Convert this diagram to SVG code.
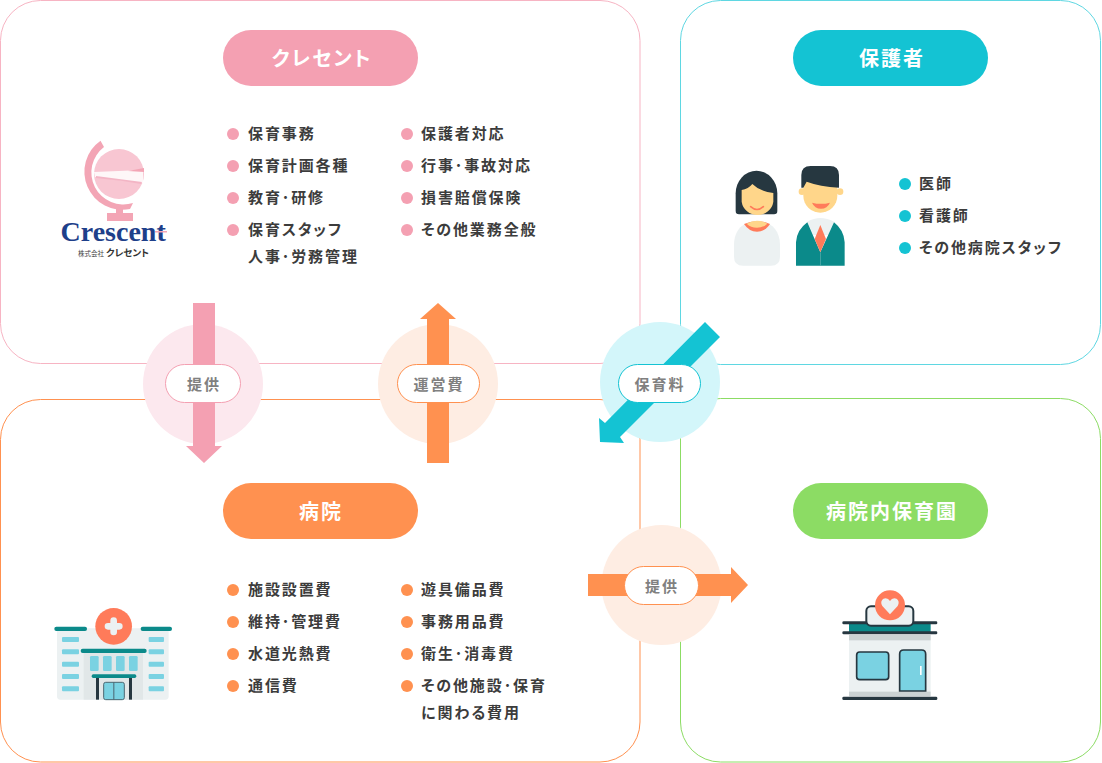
<svg xmlns="http://www.w3.org/2000/svg" width="1102" height="763" viewBox="0 0 1102 763">
<style>
text{font-family:"Noto Sans CJK JP","Noto Sans",sans-serif;font-feature-settings:"palt"}
.box{fill:#fff;stroke-width:1}
.title{font-size:20px;font-weight:700;fill:#fff;text-anchor:middle;letter-spacing:2px}
.li{font-size:15px;font-weight:700;fill:#3c3c3c;letter-spacing:1.9px}
.tag{fill:#fff;stroke-width:1}
.tagt{font-size:15px;font-weight:700;fill:#808080;text-anchor:middle;letter-spacing:2px}
.pink{fill:#F4A0B2}.cyan{fill:#14C3D3}.orange{fill:#FF9150}.green{fill:#8CDC64}
.dk{fill:#263740}.teal{fill:#0B8A8A}.sky{fill:#7AD2E2}.pale{fill:#ECF1F2}.red{fill:#FF7B5A}.skin{fill:#FFD68A}
</style>
<g id="node-crescent">
<rect class="box" x="0.5" y="0.5" width="639.5" height="363" rx="40" stroke="#F7B4C3"/>
<rect class="pink" x="223" y="30" width="195" height="56" rx="28"/>
<text class="title" x="322" y="66">クレセント</text>
<g class="pink"><circle cx="233" cy="134" r="6"/><circle cx="233" cy="166" r="6"/><circle cx="233" cy="198" r="6"/><circle cx="233" cy="230" r="6"/><circle cx="407" cy="134" r="6"/><circle cx="407" cy="166" r="6"/><circle cx="407" cy="198" r="6"/><circle cx="407" cy="230" r="6"/></g>
<text class="li" x="248" y="139">保育事務</text>
<text class="li" x="248" y="171">保育計画各種</text>
<text class="li" x="248" y="203">教育･研修</text>
<text class="li" x="248" y="235">保育スタッフ</text>
<text class="li" x="248" y="262">人事･労務管理</text>
<text class="li" x="421" y="139">保護者対応</text>
<text class="li" x="421" y="171">行事･事故対応</text>
<text class="li" x="421" y="203">損害賠償保険</text>
<text class="li" x="421" y="235">その他業務全般</text>
<g id="logo">
<path d="M100.500 140.700 L104 147 A32 32 0 0 0 133 203 L130 209 A38 38 0 0 1 100.500 140.700Z" fill="#F3A5B5"/>
<circle cx="119" cy="174" r="25" fill="#F8C6D2"/>
<path d="M94 172 L143 170 L143 183 Q118 180 95 177Z" fill="#fff" opacity=".85"/>
<path d="M128 171 L144 168 L144 172Z" fill="#F3A5B5"/>
<path d="M96 176 L142 182 L141 184 Q118 180 96 178Z" fill="#F3B5C5"/>
<rect x="116" y="205" width="7" height="9" fill="#F3A5B5"/>
<rect x="107" y="213" width="26" height="8" fill="#F3A5B5"/>
<text x="60.500" y="241" font-size="28" font-weight="700" fill="#1E3F8A" style="font-family:'Liberation Serif',serif">Crescent</text>
<rect x="155" y="231" width="12" height="1.500" fill="#F3A5B5"/>
<text x="78" y="256" font-size="6.500" fill="#444">株式会社</text>
<text x="106" y="256" font-size="9.500" font-weight="700" fill="#333">クレセント</text>
</g>
</g>
<g id="node-guardian">
<rect class="box" x="680.500" y="0.500" width="420" height="364" rx="40" stroke="#5FD7E2"/>
<rect class="cyan" x="793" y="30" width="195" height="56" rx="28"/>
<text class="title" x="892" y="66">保護者</text>
<g class="cyan"><circle cx="905" cy="184" r="6"/><circle cx="905" cy="216" r="6"/><circle cx="905" cy="248" r="6"/></g>
<text class="li" x="919" y="189">医師</text>
<text class="li" x="919" y="221">看護師</text>
<text class="li" x="919" y="253">その他病院スタッフ</text>
<g id="people" transform="translate(720 155) scale(.3333)">
<path class="pale" d="M42 270 C42 225 70 198 111 198 C152 198 180 225 180 270 L180 305 Q180 332 153 332 L69 332 Q42 332 42 305Z"/>
<path class="red" d="M72 207 Q111 190 150 207 Q135 230 111 230 Q87 230 72 207Z"/>
<path class="skin" d="M80 206 Q111 188 142 206 Q130 218 111 218 Q92 218 80 206Z"/>
<path class="dk" d="M47 115 A62 67 0 0 1 172 115 L172 168 Q172 178 162 178 L57 178 Q47 178 47 168Z"/>
<path class="skin" d="M65 105 Q85 102 97 87 Q120 110 160 114 L160 140 A48 47 0 0 1 65 140Z"/>
<path d="M92 155 Q111 172 130 155" fill="none" stroke="#FF7B5A" stroke-width="5" stroke-linecap="round"/>
<path class="pale" d="M262 200 Q301 178 342 200 L325 240 L280 240Z"/>
<path class="teal" d="M228 262 Q230 225 262 202 L301 292 L342 202 Q372 225 374 262 L374 332 L228 332Z"/>
<path class="red" d="M301 210 L318 252 L301 292 L284 252Z"/>
<rect x="300" y="292" width="2" height="40" fill="#5DB0B0"/>
<circle class="skin" cx="246" cy="110" r="10"/><circle class="skin" cx="360" cy="110" r="10"/>
<path class="skin" d="M250 80 L352 80 L352 122 A51 51 0 0 1 250 122Z"/>
<path class="dk" d="M244 98 L244 60 Q244 33 272 33 L330 33 Q357 33 357 60 L357 98 Q300 95 260 80 L250 98Z"/>
<path class="red" d="M276 143 Q303 150 330 143 Q322 161 303 161 Q284 161 276 143Z"/>
</g>
</g>
<g id="node-hospital">
<rect class="box" x="0.500" y="399.500" width="639.500" height="362.500" rx="40" stroke="#FF9150"/>
<rect class="orange" x="223" y="483" width="195" height="56" rx="28"/>
<text class="title" x="321" y="519">病院</text>
<g class="orange"><circle cx="233" cy="590" r="6"/><circle cx="233" cy="622" r="6"/><circle cx="233" cy="654" r="6"/><circle cx="233" cy="686" r="6"/><circle cx="407" cy="590" r="6"/><circle cx="407" cy="622" r="6"/><circle cx="407" cy="654" r="6"/><circle cx="407" cy="686" r="6"/></g>
<text class="li" x="248" y="595">施設設置費</text>
<text class="li" x="248" y="627">維持･管理費</text>
<text class="li" x="248" y="659">水道光熱費</text>
<text class="li" x="248" y="691">通信費</text>
<text class="li" x="421" y="595">遊具備品費</text>
<text class="li" x="421" y="627">事務用品費</text>
<text class="li" x="421" y="659">衛生･消毒費</text>
<text class="li" x="421" y="691">その他施設･保育</text>
<text class="li" x="421" y="718">に関わる費用</text>
<g id="hospital-icon" transform="translate(45 600) scale(.3333)">
<rect class="pale" x="36" y="85" width="335" height="214" rx="10"/>
<rect class="pale" x="140" y="95" width="133" height="36"/>
<rect x="116" y="150" width="178" height="149" fill="#E1E7E8"/>
<rect x="28" y="80" width="98" height="13" rx="6" class="teal"/>
<rect x="287" y="80" width="94" height="13" rx="6" class="teal"/>
<g class="sky">
<rect x="51" y="111" width="51" height="15" rx="3"/><rect x="51" y="148" width="51" height="15" rx="3"/><rect x="51" y="185" width="51" height="15" rx="3"/><rect x="51" y="222" width="51" height="15" rx="3"/><rect x="51" y="259" width="51" height="15" rx="3"/>
<rect x="311" y="111" width="46" height="15" rx="3"/><rect x="311" y="148" width="46" height="15" rx="3"/><rect x="311" y="185" width="46" height="15" rx="3"/><rect x="311" y="222" width="46" height="15" rx="3"/><rect x="311" y="259" width="46" height="15" rx="3"/>
<rect x="135" y="168" width="26" height="45" rx="4"/><rect x="174" y="168" width="26" height="45" rx="4"/><rect x="213" y="168" width="26" height="45" rx="4"/><rect x="252" y="168" width="26" height="45" rx="4"/>
</g>
<rect x="107" y="146" width="198" height="13" rx="6" class="teal"/>
<rect x="140" y="223" width="134" height="11" rx="5" class="teal"/>
<rect x="153" y="234" width="9" height="65" class="dk"/><rect x="252" y="234" width="9" height="65" class="dk"/>
<rect x="176" y="247" width="62" height="52" rx="6" class="sky" stroke="#4A6670" stroke-width="3"/>
<rect x="205" y="247" width="3" height="52" fill="#4A6670"/>
<circle class="red" cx="206" cy="79" r="55"/>
<path d="M206 62 L206 96 M189 79 L223 79" stroke="#ECF1F2" stroke-width="20" stroke-linecap="round"/>
</g>
</g>
<g id="node-nursery">
<rect class="box" x="680.500" y="398.500" width="420" height="363.500" rx="40" stroke="#8CDC64"/>
<rect class="green" x="793" y="483" width="195" height="56" rx="28"/>
<text class="title" x="892" y="519">病院内保育園</text>
<g id="nursery-icon" transform="translate(830 585) scale(.3333)">
<rect class="pale" x="57" y="150" width="245" height="183"/>
<rect x="57" y="150" width="245" height="16" fill="#CBD2D3"/>
<rect x="57" y="320" width="245" height="14" fill="#CBD2D3"/>
<rect class="teal" x="57" y="116" width="245" height="26"/>
<rect x="37" y="109" width="285" height="9" rx="4" class="dk"/>
<rect x="37" y="139" width="285" height="9" rx="4" class="dk"/>
<rect x="109" y="64" width="141" height="58" rx="14" class="pale" stroke="#263740" stroke-width="6"/>
<rect x="80" y="201" width="96" height="83" rx="9" class="sky" stroke="#263740" stroke-width="5"/>
<path d="M209 318 L209 207 Q209 195 221 195 L275 195 Q287 195 287 207 L287 318Z" class="sky" stroke="#263740" stroke-width="5"/>
<rect x="270" y="243" width="5" height="27" fill="#fff"/>
<rect x="37" y="335" width="285" height="10" rx="4" class="dk"/>
<circle class="red" cx="180" cy="61" r="45"/>
<path d="M180 88 L157 63 C149 50 158 40 167 40 Q175 40 180 48 Q185 40 193 40 C202 40 211 50 203 63Z" fill="#ECF1F2"/>
</g>
</g>
<g id="connectors">
<circle cx="203" cy="384" r="60" fill="#FCE8EE"/>
<circle cx="438" cy="384" r="60" fill="#FEEDE3"/>
<circle cx="660" cy="382" r="60" fill="#D3F6FA"/>
<circle cx="661.500" cy="585" r="60" fill="#FEEDE3"/>
<polygon class="pink" points="193,303 215,303 215,446 222,446 204,463 186,446 193,446"/>
<polygon class="orange" points="427,463 449,463 449,319 456,319 438,303 420,319 427,319"/>
<polygon class="cyan" points="705,322 720,337 620,437 624,443 600,442 599,418 605,423"/>
<polygon class="orange" points="588,574 731,574 731,567 748,585 731,603 731,596 588,596"/>
<g id="label-1"><rect class="tag" x="165.500" y="364.500" width="75" height="38" rx="19" stroke="#F4A0B2"/><text class="tagt" x="204" y="390">提供</text></g>
<g id="label-2"><rect class="tag" x="397.500" y="364.500" width="82" height="38" rx="19" stroke="#FF9150"/><text class="tagt" x="439" y="390">運営費</text></g>
<g id="label-3"><rect class="tag" x="618.500" y="364.500" width="82" height="38" rx="19" stroke="#14C3D3"/><text class="tagt" x="660" y="390">保育料</text></g>
<g id="label-4"><rect class="tag" x="624.500" y="566.500" width="74" height="38" rx="19" stroke="#FF9150"/><text class="tagt" x="662" y="592">提供</text></g>
</g>
</svg>
